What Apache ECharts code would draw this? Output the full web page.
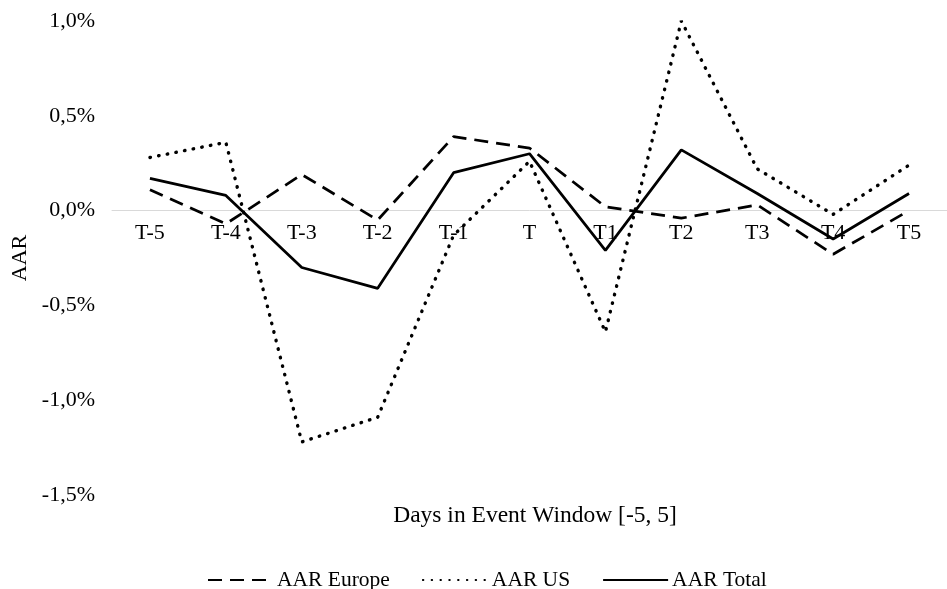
<!DOCTYPE html>
<html>
<head>
<meta charset="utf-8">
<script src="https://cdn.jsdelivr.net/npm/echarts@6/dist/echarts.min.js"></script>
<style>
html,body{margin:0;padding:0;background:#fff;}
#c{width:947px;height:589px;}
</style>
</head>
<body>
<div id="c"></div>
<script>
const categories = ['T-5','T-4','T-3','T-2','T-1','T','T1','T2','T3','T4','T5'];
const aarEurope = [0.11, -0.07, 0.19, -0.05, 0.39, 0.33, 0.02, -0.04, 0.03, -0.23, 0.00];
const aarUS     = [0.28, 0.36, -1.22, -1.09, -0.13, 0.26, -0.64, 1.00, 0.22, -0.02, 0.24];
const aarTotal  = [0.17, 0.08, -0.30, -0.41, 0.20, 0.30, -0.21, 0.32, 0.09, -0.15, 0.09];
const yMin = -1.5, yMax = 1.0, yStep = 0.5;

const FONT = '"Liberation Serif", "Times New Roman", serif';
const GRID_H = 474;
const zeroOffset = -GRID_H * (0 - yMin) / (yMax - yMin);

const chart = echarts.init(document.getElementById('c'), null, {renderer: 'canvas'});
chart.setOption({
  animation: false,
  backgroundColor: '#fff',
  textStyle: {fontFamily: FONT},
  grid: {left: 112, top: 21, width: 849, height: GRID_H},
  legend: {
    left: 202, top: 564,
    itemWidth: 65, itemHeight: 14, itemGap: 32,
    itemStyle: {opacity: 0},
    textStyle: {fontFamily: FONT, fontSize: 21.5, color: '#000', padding: [0, 0, 0, -1]},
    data: ['AAR Europe', 'AAR US', 'AAR Total']
  },
  graphic: [{
    type: 'text', x: 535, y: 516,
    style: {text: 'Days in Event Window [-5, 5]', font: '23.5px ' + FONT, fill: '#000',
            align: 'center', verticalAlign: 'middle'}
  }],
  xAxis: {
    type: 'category', data: categories, boundaryGap: true,
    offset: zeroOffset,
    axisLine: {onZero: false, lineStyle: {color: '#d9d9d9', width: 1}},
    axisTick: {show: false},
    axisLabel: {fontFamily: FONT, fontSize: 22, color: '#000', margin: 12, interval: 0},
    splitLine: {show: false}
  },
  yAxis: {
    type: 'value', min: yMin, max: yMax, interval: yStep,
    name: 'AAR', nameLocation: 'middle', nameGap: 76, nameRotate: 90,
    nameTextStyle: {fontFamily: FONT, fontSize: 22, color: '#000'},
    axisLine: {show: false}, axisTick: {show: false},
    splitLine: {show: false},
    axisLabel: {
      fontFamily: FONT, fontSize: 22, color: '#000', margin: 17,
      formatter: v => v.toFixed(1).replace('.', ',') + '%'
    }
  },
  series: [
    {name: 'AAR Europe', type: 'line', data: aarEurope, symbol: 'none',
     lineStyle: {color: '#000', width: 2.75, type: [14, 8]}, itemStyle: {color: '#000'}},
    {name: 'AAR US', type: 'line', data: aarUS, symbol: 'none',
     lineStyle: {color: '#000', width: 3.4, type: [0.5, 8.3], cap: 'round'}, itemStyle: {color: '#000'}},
    {name: 'AAR Total', type: 'line', data: aarTotal, symbol: 'none',
     lineStyle: {color: '#000', width: 2.75, type: 'solid'}, itemStyle: {color: '#000'}}
  ]
});
</script>
</body>
</html>
